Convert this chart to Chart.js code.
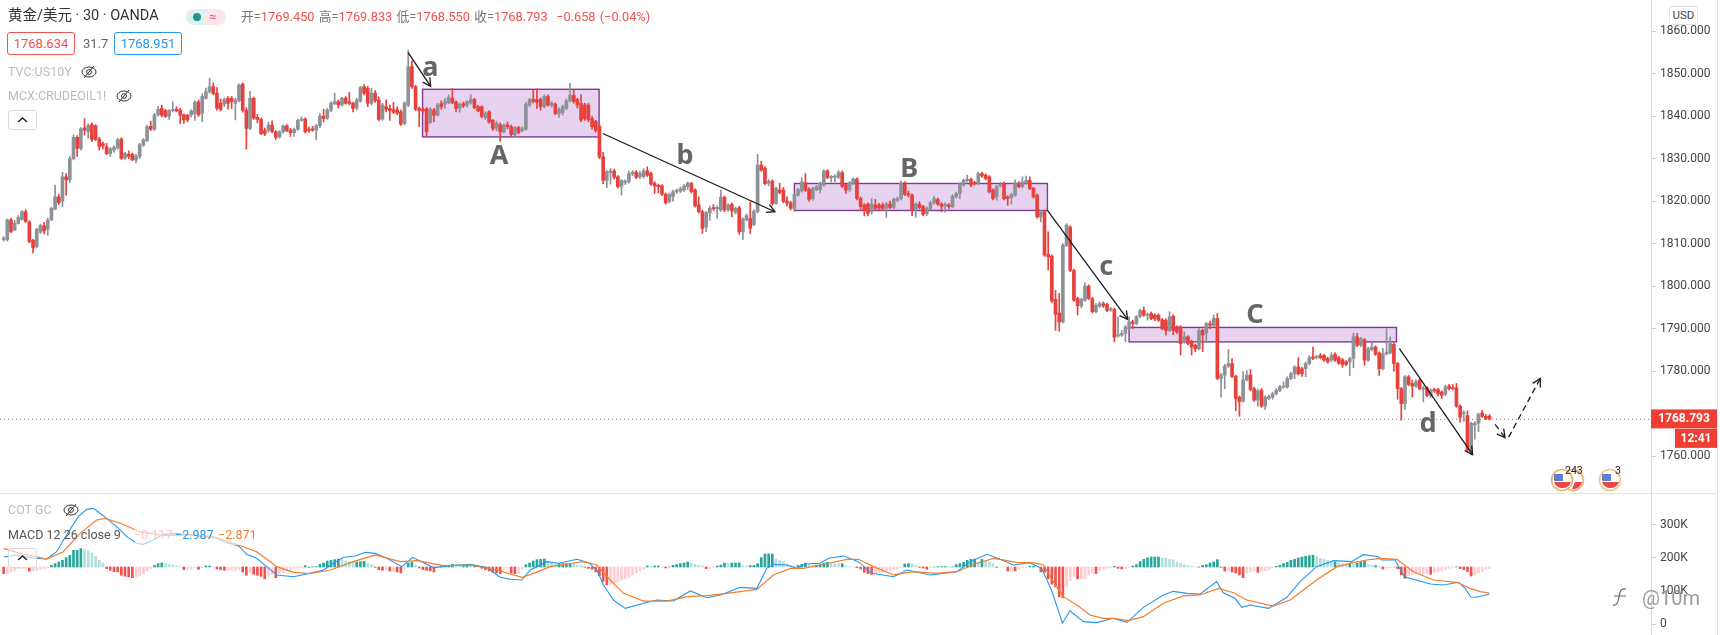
<!DOCTYPE html>
<html><head><meta charset="utf-8">
<script src="https://cdn.jsdelivr.net/npm/chart.js@4/dist/chart.umd.min.js"></script>
<style>
html,body{margin:0;padding:0;background:#fff;width:1720px;height:635px;overflow:hidden;font-family:Roboto,"Noto Sans CJK SC",sans-serif}
canvas{position:absolute;left:0;display:block}
.t{position:absolute;white-space:nowrap;line-height:1}
.r{color:#ef5350}
.g{color:#777}
.hline{position:absolute;left:0;top:493px;width:1717px;height:1px;background:#e0e3eb}
.vline{position:absolute;left:1717px;top:0;width:1px;height:635px;background:#e0e3eb}
.box{position:absolute;border-radius:3px;box-sizing:border-box;text-align:center;font-size:13px;background:#fff}
.btn{position:absolute;left:8px;width:29px;height:20px;border:1px solid #d8dae0;border-radius:3px;box-sizing:border-box;background:rgba(255,255,255,.55)}
svg{position:absolute;overflow:visible}
</style></head><body>
<canvas id="priceChart" width="1720" height="493" style="top:0"></canvas>
<canvas id="macdChart" width="1720" height="141" style="top:494px"></canvas>
<div class="hline"></div><div class="vline"></div>

<div class="t" style="left:8px;top:9px;font-size:14.5px;color:#333">黄金/美元 · 30 · OANDA</div>
<div style="position:absolute;left:186px;top:9px;width:40px;height:16px;border-radius:8px;background:linear-gradient(90deg,#dff1ef 50%,#fde6ea 50%)"></div>
<div style="position:absolute;left:193px;top:13px;width:8px;height:8px;border-radius:50%;background:#1c9a8b"></div>
<div class="t" style="left:209px;top:10px;font-size:13px;color:#e5507a">≈</div>
<div class="t" style="left:241px;top:11px;font-size:12.8px;color:#777;word-spacing:1px">开=<span class="r">1769.450</span> 高=<span class="r">1769.833</span> 低=<span class="r">1768.550</span> 收=<span class="r">1768.793</span> <span class="r">&nbsp;−0.658 (−0.04%)</span></div>
<div class="box" style="left:7px;top:32px;width:68px;height:23px;border:1px solid #ef5350;color:#ef5350;line-height:21px">1768.634</div>
<div class="t" style="left:83px;top:37px;font-size:13px;color:#666">31.7</div>
<div class="box" style="left:114px;top:32px;width:68px;height:23px;border:1px solid #2196f3;color:#2196f3;line-height:21px">1768.951</div>
<div class="t" style="left:8px;top:66px;font-size:12.5px;color:#bbb">TVC:US10Y</div>
<svg style="left:81px;top:65px" width="16" height="14" viewBox="0 0 16 14"><ellipse cx="8" cy="7" rx="7" ry="5" fill="none" stroke="#333" stroke-width="1"/><circle cx="8" cy="7" r="2.4" fill="none" stroke="#333"/><line x1="3" y1="13" x2="13" y2="1" stroke="#333"/></svg>
<div class="t" style="left:8px;top:90px;font-size:12.5px;color:#bbb">MCX:CRUDEOIL1!</div>
<svg style="left:116px;top:89px" width="16" height="14" viewBox="0 0 16 14"><ellipse cx="8" cy="7" rx="7" ry="5" fill="none" stroke="#333" stroke-width="1"/><circle cx="8" cy="7" r="2.4" fill="none" stroke="#333"/><line x1="3" y1="13" x2="13" y2="1" stroke="#333"/></svg>
<div class="btn" style="top:110px"></div>
<svg style="left:17px;top:117px" width="11" height="6"><polyline points="1,5 5.5,1 10,5" fill="none" stroke="#222" stroke-width="1.5"/></svg>

<div class="box" style="left:1669px;top:6px;width:29px;height:19px;border:1px solid #e0e3eb;font-size:11.5px;line-height:17px;color:#444">USD</div>

<div style="position:absolute;left:135px;top:528px;width:122px;height:17px;background:rgba(255,255,255,.6)"></div>
<div class="t" style="left:8px;top:504px;font-size:12.5px;color:#bbb">COT GC</div>
<svg style="left:63px;top:503px" width="16" height="14" viewBox="0 0 16 14"><ellipse cx="8" cy="7" rx="7" ry="5" fill="none" stroke="#333" stroke-width="1"/><circle cx="8" cy="7" r="2.4" fill="none" stroke="#333"/><line x1="3" y1="13" x2="13" y2="1" stroke="#333"/></svg>
<div class="t" style="left:8px;top:529px;font-size:12.5px;color:#555">MACD 12 26 close 9</div>
<div class="t" style="left:134px;top:529px;font-size:12.5px;color:#f9c9cf">−0.117</div>
<div class="t" style="left:175px;top:529px;font-size:12.5px;color:#2196f3">−2.987</div>
<div class="t" style="left:218px;top:529px;font-size:12.5px;color:#f57c2a">−2.871</div>
<div class="btn" style="top:548px"></div>
<svg style="left:17px;top:555px" width="11" height="6"><polyline points="1,5 5.5,1 10,5" fill="none" stroke="#222" stroke-width="1.5"/></svg>

<svg style="left:1561px;top:468px" width="24" height="24" viewBox="0 0 24 24"><circle cx="12" cy="12" r="10.5" fill="#fff" stroke="#f2b468" stroke-width="1.6"/><path d="M14 14h7a9 9 0 0 1-10 7z" fill="#e5484d"/></svg>
<svg style="left:1550px;top:468px" width="24" height="24" viewBox="0 0 24 24"><circle cx="12" cy="12" r="10.5" fill="#fff" stroke="#f2b468" stroke-width="1.6"/><path d="M4 6h9v7H4z" fill="#5b7fd6"/><path d="M4 14h17a9 9 0 0 1-17 0z" fill="#e5484d"/></svg>
<div class="t" style="left:1565px;top:466px;font-size:10.5px;color:#222">243</div>
<svg style="left:1598px;top:468px" width="24" height="24" viewBox="0 0 24 24"><circle cx="12" cy="12" r="10.5" fill="#fff" stroke="#f2c68a" stroke-width="1.6"/><path d="M4 6h9v7H4z" fill="#5b7fd6"/><path d="M4 14h17a9 9 0 0 1-17 0z" fill="#e5484d"/></svg>
<div class="t" style="left:1615px;top:466px;font-size:10.5px;color:#222">3</div>

<svg style="left:1611px;top:586px" width="18" height="22" viewBox="0 0 18 22"><path d="M15 3C9 2 9 6 8 11S6 20 2 19M3 10h12" fill="none" stroke="#666" stroke-width="1.2"/></svg>
<div class="t" style="left:1642px;top:588px;font-size:20px;color:#9a9a9a">@10m</div>

<script>
const opens=[1811,1810.9,1815.6,1813.2,1814.8,1815.7,1817.5,1815.1,1810.8,1809.3,
1812.7,1814.2,1813.4,1815.6,1818.1,1821,1820,1825.7,1825,1830,
1835,1832.4,1837.2,1836.4,1838,1837.7,1834.6,1833.5,1832.8,1831.2,
1832,1832.5,1834.6,1830.1,1831,1831,1829.7,1830.5,1833.2,1834.2,
1837.6,1836.9,1840.3,1841.8,1841.3,1840,1841.3,1841.6,1841.4,1840.3,
1840.2,1840.2,1840.6,1843.3,1840.7,1844.2,1845.7,1846.9,1845.4,1843,
1842.8,1844.2,1844.2,1843,1843.6,1847.5,1841.4,1837.1,1844.2,1839.7,
1839.2,1836.6,1836.6,1837.9,1836.3,1835.1,1836.3,1837.7,1836.7,1836.1,
1836.9,1839,1839.3,1836.9,1837,1836.7,1837.7,1840,1839.5,1841.4,
1842.9,1843.4,1842.6,1844.2,1843.4,1843,1841.9,1843.6,1846.9,1846.5,
1843,1845.4,1843.8,1839.3,1842.2,1841.8,1841.5,1841.5,1841,1838.3,
1842.6,1851.6,1846.9,1841.8,1841.6,1841.7,1838.5,1841.4,1840.2,1842.9,
1842.8,1843.1,1844.2,1843.3,1841.9,1842.9,1842.6,1843.1,1843.9,1842.2,
1842.2,1839.6,1841,1839,1837.1,1837.9,1836.3,1837.9,1837.5,1835.6,
1837.3,1836.6,1836.9,1842.6,1843.9,1843.9,1843.9,1842.2,1844.6,1842.5,
1842.8,1840.5,1840.8,1841.8,1843.6,1844.9,1843.9,1843,1842.6,1842.6,
1839.4,1838.8,1837.6,1830.4,1824.9,1826.7,1827.1,1825.7,1823.5,1824.4,
1824.6,1826.4,1826.8,1825.7,1825.8,1827.1,1826.5,1824.2,1823.7,1823.6,
1821.6,1819.9,1821.1,1822.2,1822.4,1822.6,1823.4,1824.2,1822.6,1819.1,
1817.5,1813.9,1817.2,1818.5,1818.2,1817.9,1820.9,1818,1819.2,1817.4,
1818.4,1812.8,1815.6,1815.9,1814.5,1817.5,1828.5,1827.7,1824.2,1824.7,
1819.5,1822.6,1822.6,1820,
1819.6,1818.3,1821.4,1822.4,1824.3,1822.7,1820.6,1822.7,1822.7,1823.8,
1827.1,1825.5,1825.6,1825.6,1826.7,1823.8,1822.7,1824.2,1825.2,1820.6,
1819.1,1819.3,1817.5,1819.1,1819.1,1819.1,1818.3,1819.3,1818.5,1820.2,
1820.6,1824.3,1821.8,1821.4,1817.9,1819.3,1818.7,1817.1,1818.3,1819.6,
1820.4,1819.3,1818.9,1819.1,1818.7,1821,1821.8,1823.8,1824.8,1825.1,
1824.4,1824.2,1826.5,1826.1,1825.7,1822.6,1821,1823.6,1824.2,1821,
1820.8,1821.4,1824.2,1823.4,1824.3,1824.9,1823,1821.4,1816.3,1817.5,
1807.5,1807.1,1796.9,1793.7,1791.6,1809.6,1813.9,1803.7,1797.1,1795.4,
1796.7,1800,1797.1,1794,1795.3,1795.9,1795.7,1794.4,1794.5,1788.3,
1788.5,1788.9,1790,1791.6,1791.2,1792.9,1794.3,1793.1,1793.6,1793.2,
1793.2,1792.1,1792,1789.6,1792.9,1790.4,1790.4,1786.9,1788.1,1786.9,
1786.1,1785.3,1789.6,1788.9,1791.2,1790.8,1792.4,1778.3,1779.1,1781.2,
1781.8,1778.8,1773.9,1773,1778,1779.1,1775.9,1773.2,1775.5,1771.8,
1773.6,1773.9,1774.7,1775.5,1776.3,1776.3,1778.3,1779.4,1781,1780.6,
1780.6,1781.8,1783.4,1783.2,1783.7,1783.7,1783,1782.6,1784,1783.2,
1782.7,1782.2,1782.2,1783,1788.1,1786.1,1787.4,1782.6,1785.1,1785.7,
1784.3,1780.6,1784.1,1784.3,1786.3,1781.8,1775.9,1772.4,1778.7,1777.1,
1776.5,1777.9,1775.8,1776.1,1774.3,1775.7,1775.7,1775.1,1774.6,1776.5,
1776.1,1776.1,1771.8,1770,1769.6,1760.6,1767.4,1767.8,1770.2,1769.4,1769.45];
const highs=[1811.7,1815.8,1816,1815.5,1816.6,1817.8,1818,1815.4,1811,1813.6,
1814.6,1815,1816,1818.6,1823.8,1821.6,1826.8,1826.5,1830.5,1835.6,
1835.4,1837.3,1839.4,1838.2,1838.4,1838,1835,1833.9,1833.6,1832.6,
1833,1834.8,1834.9,1831.5,1831.8,1831.3,1831,1833.6,1834.7,1837.8,
1838.8,1840.6,1842.3,1842.6,1841.6,1841.5,1843.4,1842.2,1841.8,1840.5,
1840.4,1841.5,1843.6,1843.8,1845.2,1846.6,1848.9,1847.8,1846.7,1844,
1844.3,1844.6,1844.6,1844.2,1847.6,1847.8,1842,1845.8,1844.5,1840.4,
1839.5,1837.2,1838.6,1838.9,1836.6,1836.6,1837.9,1838,1837.1,1837.2,
1839.3,1839.8,1839.6,1837.4,1837.6,1838,1840.6,1841.6,1841.8,1843.4,
1845.4,1843.8,1844.4,1844.6,1845.6,1843.3,1844.2,1847,1847.4,1847,
1846.6,1846,1844.5,1843,1843.8,1842.6,1843.2,1842.2,1841.4,1843.4,
1855.5,1853,1847.2,1842.2,1841.9,1842,1842,1841.8,1843,1843.6,
1844.1,1845,1846.5,1843.6,1843.1,1843.3,1843.6,1845,1844.2,1842.5,
1842.4,1841,1841.3,1839.2,1838.8,1838.4,1838.2,1838.6,1837.9,1837.6,
1837.6,1837.4,1843.2,1844.2,1846.1,1846.4,1844.3,1845,1845,1843.4,
1843.1,1842,1842.6,1844,1847.7,1846.1,1844.2,1845,1843,1843,
1840,1839,1838,1831.5,1827.2,1827.7,1827.5,1826,1825.1,1825,
1827.1,1827.2,1827.2,1827,1827.6,1828.1,1826.8,1824.6,1824,1823.9,
1821.9,1821.9,1822.6,1822.9,1823.3,1823.9,1824.5,1824.4,1822.9,1821,
1817.9,1817.6,1818.9,1819.2,1818.9,1822.6,1821.2,1819.4,1819.6,1818.6,
1818.8,1816.1,1817,1819.8,1818,1831,1829.4,1828.1,1825.1,1825,
1823.3,1824.2,1823.2,1821,
1820,1821.9,1823,1825.5,1826.5,1823.2,1823.3,1823.7,1824.5,1827.4,
1827.4,1826,1826.2,1827.2,1827.1,1824,1824.6,1825.5,1825.5,1821,
1819.4,1819.6,1820.6,1820.4,1819.5,1819.6,1819.7,1820,1820.7,1821,
1824.8,1824.6,1822.4,1821.7,1819.6,1819.9,1819,1818.7,1820,1821.1,
1820.8,1819.6,1819.6,1819.4,1821.5,1822.1,1824.3,1825.2,1826.1,1825.4,
1824.7,1826.8,1826.8,1826.4,1826,1822.9,1823.7,1824.4,1824.5,1821.3,
1821.9,1825,1824.6,1825.7,1825.9,1825.7,1823.3,1821.7,1817.8,1817.8,
1812.8,1807.4,1799,1798.3,1810,1814.7,1814.2,1804,1797.4,1797.2,
1800.8,1800.3,1797.4,1795.9,1796.3,1796.3,1796,1795,1794.8,1792.8,
1789.6,1790.8,1792.8,1792,1793.1,1794.6,1795.1,1793.7,1793.9,1793.5,
1793.5,1792.4,1792.3,1794,1793.3,1790.7,1790.7,1789.3,1788.4,1787.3,
1786.4,1790,1789.9,1791.5,1791.8,1793.2,1793.6,1779.5,1781.6,1785.1,
1783,1779.1,1774.2,1779.9,1780.2,1780.4,1776.2,1775.8,1776,1774.2,
1774.4,1775.1,1775.9,1776.7,1777.5,1778.7,1779.8,1781.3,1783.2,1780.9,
1782.2,1783.6,1785.7,1783.8,1784.2,1784,1783.3,1784.4,1784.4,1783.5,
1783,1782.5,1783.3,1789,1788.9,1788,1787.7,1785.7,1786.6,1786,
1784.6,1785.4,1790,1788.1,1786.6,1782.1,1776.2,1779,1779,1777.9,
1778,1778.2,1776.5,1776.4,1775.9,1776,1776,1775.4,1776.7,1776.9,
1776.9,1777.1,1772.1,1770.7,1770.7,1768,1768.2,1770.2,1770.8,1769.8,1769.833];
const lows=[1810.6,1810.6,1812.6,1813,1814.6,1815.5,1815,1810.2,1807.8,1809,
1812.4,1812.3,1812,1815.4,1818,1819.2,1818.7,1821.4,1824.4,1829.7,
1830.5,1832,1835.5,1834.8,1834,1834.2,1832,1832.3,1830.9,1830.5,
1831.5,1832.2,1829.8,1829.8,1830,1829.5,1829,1830,1832.9,1834,
1836.6,1836.6,1840,1839.8,1839.7,1839.2,1841,1841,1838.3,1838.3,
1838.6,1839.8,1839,1839.9,1838.7,1844,1845.4,1845,1841.4,1841.2,
1842.2,1841.6,1841.8,1839.1,1843.3,1840.9,1832.2,1836.8,1839.2,1838.4,
1835.6,1835.4,1836.2,1836.1,1834.5,1834.8,1836,1836.3,1835.2,1835.2,
1836.6,1838.8,1836,1836.2,1836.4,1834.4,1837.3,1838.6,1839.2,1841,
1842.7,1841.9,1842.4,1842.8,1842.6,1841,1841.5,1843.2,1845,1842.2,
1842.6,1843.2,1838.9,1839,1841,1839,1840.6,1840.3,1837.8,1837.9,
1842.2,1846.5,1841.3,1837.5,1840.8,1835.3,1838.2,1838.7,1840,1841.6,
1841.8,1842.9,1842.9,1841,1840.9,1842,1842.1,1842.8,1841.7,1841,
1839.6,1839.2,1838.3,1836.6,1836.5,1834.1,1836,1837,1835.3,1835.2,
1835.8,1836.3,1836.6,1842.2,1843.1,1841.8,1841.4,1841.9,1842.3,1842.1,
1840.3,1839.7,1840.2,1841.5,1843.3,1843,1841.9,1838.7,1839,1838.7,
1837,1836.2,1830,1824.1,1823.2,1824,1825.2,1823.1,1821.4,1823.9,
1824.2,1826,1825.3,1825.3,1825.4,1825.8,1823.7,1821.8,1821.9,1821.3,
1819.3,1819.6,1820,1821.8,1822,1822.3,1822.7,1821.9,1818.6,1817.2,
1812.4,1812.8,1815.5,1817.8,1816,1817.6,1817.5,1817.6,1816.3,1817,
1812.2,1811,1815.3,1812.4,1814.2,1817.2,1827,1823.8,1823.6,1819,
1819.2,1821.7,1819.6,1818.8,
1817.9,1817.6,1821.1,1822.1,1822.3,1820,1820.2,1822.4,1821.9,1823.5,
1825.3,1824.5,1824.6,1825.3,1823.2,1821.8,1822.2,1823.9,1820.3,1818.1,
1816.5,1816.5,1816.9,1818,1818,1817.8,1816.2,1818.2,1818.2,1819.9,
1820.3,1821.3,1821,1816.6,1816.2,1818.2,1816.5,1816.6,1818,1819.2,
1819,1817.5,1817.4,1818.3,1818.4,1820.7,1820.6,1823.5,1824.5,1823.4,
1823.8,1823.9,1825.6,1825,1821.9,1820.3,1820.2,1823.3,1820.3,1819,
1819.3,1821.1,1823.1,1823.1,1824,1822.7,1820.7,1816,1815.1,1807,
1803.8,1796.2,1789.6,1789.4,1791.3,1809.3,1803.4,1796.4,1793.2,1794.9,
1796.4,1796.8,1793.7,1793.7,1795,1795,1794,1794.1,1786.9,1788,
1788.2,1786.9,1789.7,1790,1790.9,1792.6,1792.9,1792,1792.1,1791.9,
1791.7,1789.7,1788.5,1789.3,1788.6,1788.9,1783.8,1786.6,1786.2,1783.8,
1784.6,1785,1784.6,1787,1790,1790.5,1778,1773.9,1775.9,1780.9,
1778.5,1770.7,1769.4,1772.7,1777.7,1775.4,1772.9,1771.8,1771.5,1771,
1773.3,1773.4,1774.4,1775.2,1776,1776,1778,1778.2,1779.1,1778.8,
1778.7,1781.5,1782.7,1782.9,1782.9,1782.3,1781.9,1782.3,1782.3,1781.6,
1780.9,1781.3,1779,1780.8,1785.8,1785.8,1781.4,1782.3,1784.8,1783.7,
1779,1780.3,1783.8,1784,1780,1773.4,1768.5,1771,1776.6,1773.9,
1776.2,1775.6,1772.8,1774,1773.8,1775,1774.2,1773.6,1774.2,1775.6,
1775.6,1771.5,1768,1768.2,1761.1,1760.3,1764,1765.8,1769.1,1768.6,1768.55];
const closes=[1811.3,1815.6,1812.8,1814.8,1816.2,1817.5,1815.2,1810.5,1809,1813.4,
1814.2,1813,1815.5,1818.3,1821,1819.6,1825.7,1825,1830,1835,
1832.4,1837,1836.7,1837.8,1834.5,1834.5,1832.8,1833,1831.2,1832.3,
1832.6,1834.4,1830.1,1831.2,1830.5,1829.7,1830.6,1833.3,1834.4,1837.5,
1836.9,1840.3,1841.6,1840.2,1839.9,1841.3,1841.5,1841.2,1840.2,1839.1,
1839.1,1841.2,1843.3,1840.3,1844.6,1845.7,1846.9,1845.3,1841.8,1841.6,
1843.9,1843,1843.4,1843.8,1847.3,1841.4,1837.1,1844.2,1839.5,1839.2,
1835.9,1835.8,1837.9,1836.4,1835,1836.3,1837.7,1836.6,1836.1,1836.9,
1839,1839.3,1836.3,1836.6,1836.7,1837.7,1840,1839.4,1841.4,1843,
1843.4,1842.6,1844.2,1843,1843,1841.8,1843.8,1846.7,1845.4,1843,
1845.4,1843.6,1839.2,1842.6,1841.6,1841.3,1840.9,1840.7,1838.1,1843,
1851.6,1846.9,1841.6,1841.3,1841.2,1836.3,1841.6,1840.2,1842.6,1842.2,
1843.4,1844.4,1843.1,1841.8,1842.8,1842.4,1843.4,1843.9,1842,1841.2,
1839.9,1840.6,1838.6,1837.1,1838.3,1836.3,1837.9,1837.5,1835.7,1837.3,
1836.1,1837,1842.8,1843.9,1843.4,1843.3,1842.2,1844.6,1842.6,1843,
1840.6,1841.6,1842.2,1843.6,1844.9,1843.4,1842.6,1839.1,1839.4,1839.1,
1837.5,1836.6,1830.4,1824.9,1826.9,1827.1,1825.6,1823.4,1824.8,1824.7,
1826.5,1826.8,1825.6,1826.5,1827.1,1826.1,1824,1823.6,1823.4,1821.6,
1819.6,1821.6,1822.2,1822.5,1822.9,1823.5,1824.2,1822.2,1818.9,1817.5,
1813.6,1817.3,1818.3,1818.2,1818.5,1820.9,1817.9,1819.1,1817.7,1818.3,
1812.8,1815.8,1816.6,1813.6,1817.6,1828.5,1827.3,1824.1,1824.6,1819.4,
1823,1822,1819.9,1819.5,
1818.3,1821.6,1822.7,1824.5,1822.6,1820.4,1823,1823.4,1824.2,1827.1,
1825.6,1825.8,1825.9,1826.7,1823.5,1822.6,1824.3,1825.2,1820.6,1818.7,
1817.9,1817.1,1819.3,1818.3,1818.3,1818.3,1819.3,1818.5,1820.4,1820.6,
1824.2,1821.6,1821.4,1817.9,1819.3,1818.5,1816.9,1818.3,1819.6,1820.6,
1819.3,1818.8,1819.3,1818.7,1821.2,1821.8,1824,1824.9,1825.1,1823.8,
1824.1,1826.5,1825.9,1825.3,1822.2,1820.6,1823.4,1823.9,1820.6,1820.6,
1821.6,1824.2,1823.4,1824.5,1824.9,1823,1821,1816.3,1817.5,1807.3,
1806.9,1796.5,1793.4,1791.6,1809.6,1814.3,1803.7,1796.7,1795.4,1796.9,
1800,1797.1,1794,1795.5,1795.9,1795.4,1794.3,1794.6,1788,1788.6,
1788.9,1790.4,1791.6,1791.2,1792.8,1794.3,1793.2,1793.3,1792.4,1792.4,
1792,1790,1789.6,1792.8,1789.6,1789.2,1786.5,1788.1,1786.5,1785.7,
1785.3,1789.6,1788.5,1791.2,1790.8,1792.4,1778.3,1779.1,1781.2,1781.8,
1778.8,1773.6,1772.8,1778,1779.1,1775.7,1773.2,1775.4,1771.8,1773.9,
1774,1774.7,1775.5,1776.3,1776.5,1778.3,1779.4,1781,1779.4,1779.4,
1781.8,1783.2,1783,1783.4,1783.2,1782.6,1782.2,1783.7,1782.6,1781.9,
1781.6,1781.6,1783,1788.1,1786.1,1787.7,1782.6,1785.3,1785.7,1784,
1780.6,1784.1,1784.5,1786.5,1781.8,1775.9,1772.4,1778.7,1776.9,1776.5,
1777.5,1775.9,1776,1774.3,1775.5,1775.4,1774.7,1774.3,1776.3,1775.9,
1775.9,1771.8,1769.2,1770.3,1761.4,1767.7,1767.8,1769.9,1769.4,1768.9,1768.793];

const histValues=[-.74,-.74,-.55,-.37,-.18,-.18,-.15,-.44,-.44,-.37,-.29,-.18,-.07,
.18,.37,.55,.74,1.03,1.29,1.84,1.84,2.03,1.92,1.77,1.55,1.18,.74,.44,
-.18,-.37,-.52,-.55,-.92,-1.03,-1.1,-1.18,-1.1,-.92,-.74,-.44,-.18,
.18,.37,.44,.37,.29,.22,.11,.04,
-.29,-.29,-.22,-.07,-.26,-.07,
.11,.11,0,-.22,-.29,-.37,-.37,-.37,-.37,-.29,-.55,-.92,-.66,-.81,-.92,-1.03,-1.29,-1.03,-.81,-1.18,-.74,-.66,-.44,-.29,-.22,-.11,-.07,
.15,-.04,.02,.04,.29,.44,.66,.74,.81,.88,.81,.66,.59,.52,.55,.59,.63,.37,.26,
-.04,-.29,-.37,-.37,-.44,-.44,-.55,-.66,-.22,.44,.52,.22,-.11,-.29,-.37,-.44,-.55,-.07,.11,.11,.18,.29,.11,.07,.07,.15,.11,.11,.04,-.15,-.29,-.44,-.59,-.66,-.74,-.22,-.15,-.66,-.74,-.74,
-.22,.26,.44,.66,.81,.85,.88,.55,.44,.37,.37,.37,.37,.4,.37,.18,.15,-.04,-.15,-.26,-.55,-.96,-1.6,-1.96,-1.92,-1.77,-1.66,-1.47,-1.29,-1.1,-.88,-.66,-.44,-.22,
.11,.07,.11,.11,0,-.11,0,.18,.26,.37,.44,.55,.37,.26,.18,.11,-.18,-.18,-.04,.11,.22,.44,.4,.44,.44,.44,.15,.11,.15,.18,.37,1.03,1.44,1.44,1.44,.88,.7,.59,.33,.15,.11,.18,.29,.44,.26,.18,.22,.29,.44,.52,.44,.4,.37,.37,.15,.04,.02,-.07,-.22,-.59,-.74,-.81,-.74,-.66,-.55,-.44,-.37,-.29,-.22,-.11,.33,.37,.33,.15,-.04,-.11,-.26,-.07,0,.04,.04,.04,.02,.02,.26,.37,.52,.74,.85,.88,.55,.85,.63,.55,.37,-.04,-.04,-.02,-.44,-.37,-.44,
-.26,-.07,-.02,.07,.1,.04,-.55,-.59,-1.3,-1.9,-2.2,-3.3,-3.4,-2.2,-1.5,-1,-1.3,-1.3,-1.3,-.88,-.7,-.74,-.37,-.22,-.18,-.07,.07,-.15,-.22,-.18,-.11,.11,.26,.59,.85,1,1.1,1.1,1.1,1,.96,.85,.81,.55,.4,.26,.15,.07,.02,-.02,.18,.26,.44,.55,.81,-.04,-.44,-.44,-.55,-.66,-.88,-1.18,-.66,-.55,-.44,-.59,-.44,-.4,-.33,-.11,.07,.18,.37,.52,.74,.85,1,1.1,1.2,1.25,1.3,1.15,.96,.85,.74,.55,.55,.44,.37,.33,.33,.3,.4,.55,.63,.26,.15,.15,.07,-.22,-.11,-.07,-.07,-.18,-.88,-1.25,-.96,-.85,-.74,-.74,-.74,-.7,-.8,-.59,-.52,-.44,-.3,-.15,-.04,.02,-.18,-.3,-.5,-1,-.85,-.66,-.55,-.26,-.2];
const macdIdx=[0,1,3.5,8,11.7,14.4,17.1,20.3,22.6,24.4,27.1,30.7,33.5,36.2,38,40.7,43.4,47,51.6,54.3,57.9,60.7,63.8,66.1,68.8,71.5,74.3,78.8,83.3,87,89.7,92.4,95.6,98.3,101,104.2,108.3,111.2,113.7,116.9,121.4,126.9,131.4,135,137.7,140.9,143.2,147.7,150.9,155.9,159,161.3,163.1,165.8,169,174,177.6,182.1,186.7,191.2,194.9,200.3,204.8,207.5,209.3,213,215.7,218,222,224.3,228.4,232.4,236,242,245.6,251.9,259.2,262.8,267.4,270.9,274.5,279,282.2,284.9,287.9,289.9,293.6,297.2,301.7,305.4,309.9,315.3,318,321.7,325.3,329.8,331.6,334.8,336.6,338.9,343.9,348.9,352.5,357,361.6,366.5,369.7,373.8,374.7,378.3,380.8,387.9,391.5,395.6,397.4,398.9,400.5,404];
const macdVals=[1.14,1.14,1.33,.96,.88,1.69,3.54,5.56,6.37,6.48,5.67,4.46,3.35,2.62,2.5,2.98,3.61,3.72,3.54,3.35,3.17,2.69,2.36,1.4,.96,.04,-.88,-1.07,-.7,-.33,.41,1.07,1.22,1.62,1.51,.96,.04,1.07,.59,-.07,.15,.29,-.07,-1.14,-1.36,-1.44,-.33,.59,.41,.85,.48,-.33,-1.99,-3.65,-4.57,-4.01,-3.65,-3.76,-2.65,-3.39,-3.09,-2.25,-2.36,-.15,.29,.22,-.15,.33,.41,.96,1.22,.59,-.7,-1.07,-.33,-.88,-.52,.59,1.4,.85,.22,.48,-.15,-2.54,-6.22,-4.83,-6.04,-6.15,-5.67,-6.11,-4.46,-3.09,-2.69,-2.91,-2.98,-1.62,-2.84,-3.46,-4.46,-4.2,-4.57,-3.35,-1.62,.04,.7,.59,1.36,1.14,.77,.77,-1.07,-1.88,-1.99,-1.69,-2.36,-3.31,-3.35,-2.987];
const signalIdx=[0,4.5,11.7,16.2,20.8,25.3,27.6,31.7,37.1,43.4,49.8,57,62.5,68.8,74.3,78.8,83.3,88.8,95.1,101,107.8,112.3,119.6,126.9,134.1,140.9,144.1,148.6,153.1,157.7,161.3,164.9,168.5,174,180.3,185.8,191.2,196.7,204.8,209.3,213.9,217.5,222,229.3,232.4,236.5,242,247.4,253.7,259.2,264.6,269.2,270.9,275.4,280,282.7,285.4,288.1,291.8,295.4,299,301.7,305.8,309.9,315.3,320.8,325.3,330.3,334.4,338,345.2,349.8,357,362.5,367,370.6,374.3,378.8,383.3,388.8,395.1,398.7,401.5,404];
const signalVals=[2.06,1.51,.88,1.69,3.72,5.19,5.38,4.83,3.9,3.46,3.54,3.35,2.62,1.69,.04,-.59,-.74,-.33,.59,1.33,.59,.7,.15,.22,-.33,-1.14,-.7,.04,.33,.59,.22,-1.44,-2.91,-3.76,-3.76,-3.28,-3.17,-2.91,-2.47,-.88,-.15,-.15,.22,.85,.85,.04,-.88,-.52,-.7,-.52,.41,.96,.85,.52,.48,.22,-1.62,-3.28,-4.2,-5.3,-5.67,-5.67,-5.93,-5.49,-4.01,-3.2,-3.09,-2.36,-2.84,-3.65,-4.31,-3.65,-1.44,.04,.48,.77,.96,.85,-.52,-1.44,-1.69,-2.36,-2.72,-2.871];

const priceTicks=[1760,1780,1790,1800,1810,1820,1830,1840,1850,1860];
const volumeTicks=[0,100000,200000,300000];
const lastPrice=1768.793;
const countdown="12:41";

const rangeBoxes=[{from:113.9,to:161.9,top:1846.3,bottom:1835.1},{from:215,to:283.8,top:1824.15,bottom:1817.8},{from:306,to:378.7,top:1790.3,bottom:1786.9}];
const arrows=[
 {from:[110,1854.9],to:[116.1,1847]},
 {from:[162.9,1835.9],to:[209.7,1817.5]},
 {from:[283.8,1817.8],to:[305.6,1792.2]},
 {from:[379.5,1785.3],to:[399.4,1760.4]},
 {from:[405.5,1767.5],to:[408.2,1764.4],dash:true},
 {from:[409.2,1764.5],to:[417.8,1778.3],dash:true}];
const waveLabels=[{t:"a",i:116,p:1851.6},{t:"A",i:134.7,p:1830.8},{t:"b",i:185.3,p:1831},{t:"B",i:246.2,p:1827.8},{t:"c",i:299.8,p:1804.9},{t:"C",i:340.2,p:1793.4},{t:"d",i:387.3,p:1767.8}];

const RED="#e8403c",GREY="#8f9199";
const isUp=i=>closes[i]>=opens[i];
const xMin=-0.985,xMax=447.9;
const fontFamily='Roboto,"Liberation Sans",sans-serif';
const wicks=opens.map((_,i)=>({x:i,y:[lows[i],highs[i]]}));
const bodies=opens.map((o,i)=>({x:i,y:[o,closes[i]]}));

const drawings={
 id:"drawings",
 beforeDatasetsDraw(c){
  const {ctx,scales:{x,y}}=c;
  ctx.save();
  rangeBoxes.forEach(b=>{
   const l=x.getPixelForValue(b.from),r=x.getPixelForValue(b.to),t=y.getPixelForValue(b.top),bo=y.getPixelForValue(b.bottom);
   ctx.fillStyle="#e7d2ef";ctx.fillRect(l,t,r-l,bo-t);
   ctx.strokeStyle="#7f3a98";ctx.lineWidth=1.4;ctx.strokeRect(l,t,r-l,bo-t);
  });
  ctx.restore();
 },
 afterDatasetsDraw(c){
  const {ctx,scales:{x,y},chartArea:a}=c;
  ctx.save();
  const py=y.getPixelForValue(lastPrice);
  ctx.strokeStyle="#ef5350";ctx.lineWidth=1;ctx.setLineDash([1,3]);
  ctx.beginPath();ctx.moveTo(0,py+.5);ctx.lineTo(a.right,py+.5);ctx.stroke();
  arrows.forEach(ar=>{
   const x0=x.getPixelForValue(ar.from[0]),y0=y.getPixelForValue(ar.from[1]),x1=x.getPixelForValue(ar.to[0]),y1=y.getPixelForValue(ar.to[1]);
   ctx.strokeStyle="#1a1a1a";ctx.lineWidth=1.3;ctx.setLineDash(ar.dash?[6,4]:[]);
   ctx.beginPath();ctx.moveTo(x0,y0);ctx.lineTo(x1,y1);ctx.stroke();
   ctx.setLineDash([]);
   const ang=Math.atan2(y1-y0,x1-x0),L=9;
   ctx.beginPath();
   ctx.moveTo(x1-L*Math.cos(ang-.5),y1-L*Math.sin(ang-.5));ctx.lineTo(x1,y1);ctx.lineTo(x1-L*Math.cos(ang+.5),y1-L*Math.sin(ang+.5));
   ctx.stroke();
  });
  ctx.fillStyle="#666";ctx.font='bold 27px "Noto Sans","Open Sans",sans-serif';ctx.textAlign="center";ctx.textBaseline="middle";
  waveLabels.forEach(l=>ctx.fillText(l.t,x.getPixelForValue(l.i),y.getPixelForValue(l.p)+1.5));
  ctx.fillStyle="#ef3f34";
  ctx.fillRect(a.right,py-9.5,66,19);
  ctx.fillRect(1675,py+10,42,19);
  ctx.fillStyle="#fff";ctx.font='bold 12px '+fontFamily;ctx.textBaseline="middle";ctx.textAlign="center";
  ctx.fillText(lastPrice.toFixed(3),a.right+33,py+.5);
  ctx.fillText(countdown,1696,py+20);
  ctx.restore();
 }
};
function axisCommon(){return {position:"right",
  afterFit(s){s.width=69;s.paddingTop=0;s.paddingBottom=0;},
  grid:{drawOnChartArea:false,drawTicks:true,tickLength:5,color:"#c9ccd4"},
  border:{display:true,color:"#d8dae0"}};}

new Chart(document.getElementById("priceChart"),{
 type:"bar",
 data:{datasets:[
  {data:wicks,barThickness:1,grouped:false,backgroundColor:c=>isUp(c.dataIndex)?GREY:RED,order:2},
  {data:bodies,barThickness:3,minBarLength:1,grouped:false,backgroundColor:c=>isUp(c.dataIndex)?GREY:RED,order:1}
 ]},
 options:{responsive:false,animation:false,devicePixelRatio:1,layout:{padding:0},
  datasets:{bar:{grouped:false}},
  plugins:{legend:{display:false},tooltip:{enabled:false}},
  scales:{
   x:{type:"linear",min:xMin,max:xMax,offset:false,display:false},
   y:Object.assign(axisCommon(),{min:1751.365,max:1867.294,
     afterBuildTicks(s){s.ticks=priceTicks.map(v=>({value:v}));},
     ticks:{color:"#444",font:{size:12,family:fontFamily},padding:4,callback:v=>v.toFixed(3)}})
  }},
 plugins:[drawings]
});

const histColor=c=>{const i=c.dataIndex,h=histValues[i],p=i?histValues[i-1]:0;
 return h>=0?(h>=p?"#26a69a":"#b2dfdb"):(h<p?"#ef5350":"#ffcdd2");};
new Chart(document.getElementById("macdChart"),{
 type:"bar",
 data:{datasets:[
  {type:"bar",data:histValues.map((v,i)=>({x:i,y:v})),yAxisID:"m",barThickness:2,grouped:false,backgroundColor:histColor,order:3},
  {type:"line",data:signalIdx.map((x,i)=>({x,y:signalVals[i]})),yAxisID:"m",borderColor:"#f57c2a",borderWidth:1.2,pointRadius:0,order:1},
  {type:"line",data:macdIdx.map((x,i)=>({x,y:macdVals[i]})),yAxisID:"m",borderColor:"#2196f3",borderWidth:1.1,pointRadius:0,order:2}
 ]},
 options:{responsive:false,animation:false,devicePixelRatio:1,layout:{padding:0},
  plugins:{legend:{display:false},tooltip:{enabled:false}},
  scales:{
   x:{type:"linear",min:xMin,max:xMax,offset:false,display:false},
   m:{min:-7.514,max:8.066,display:false},
   y:Object.assign(axisCommon(),{min:-33333,max:393939,
     afterBuildTicks(s){s.ticks=volumeTicks.map(v=>({value:v}));},
     ticks:{color:"#444",font:{size:12,family:fontFamily},padding:4,callback:v=>v===0?"0":(v/1000)+"K"}})
  }}
});
</script>
</body></html>
